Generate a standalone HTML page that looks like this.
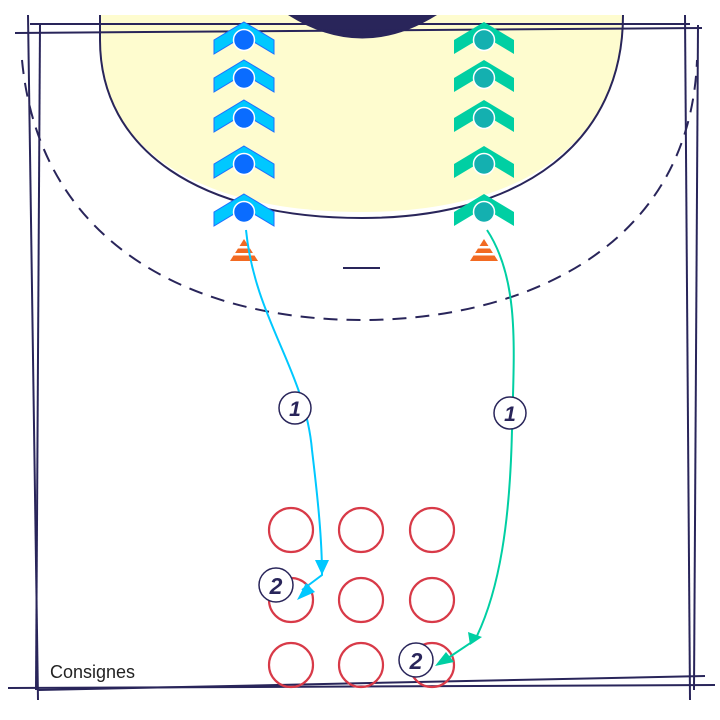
<!DOCTYPE html>
<html><head><style>body{margin:0;background:#fff}svg{display:block}</style></head><body>
<svg width="720" height="720" viewBox="0 0 720 720" xmlns="http://www.w3.org/2000/svg">
<defs>
<g id="chB"><polygon points="0,-18 30,0 30,14 0,-4 -30,14 -30,0" fill="#00c8ff" stroke="#1e6eff" stroke-width="1"/><circle r="10.5" fill="#0a6cff" stroke="#fff" stroke-width="1.5"/></g>
<g id="chG"><polygon points="0,-18 30,0 30,14 0,-4 -30,14 -30,0" fill="#00cfa3"/><circle r="10.5" fill="#14b0b0" stroke="#fff" stroke-width="1.5"/></g>
<g id="cone"><polygon points="0,-11 -14,11 14,11" fill="#f26a22"/><rect x="-15" y="-4" width="30" height="2.5" fill="#fff"/><rect x="-15" y="3" width="30" height="2.5" fill="#fff"/></g>
</defs>
<path d="M100,15 L100,40 C100,150 200,212 362,212 C525,212 623,140 623,15 Z" fill="#fefccf"/>
<path d="M100,15 L100,40 C100,150 200,218 362,218 C525,218 623,140 623,15" fill="none" stroke="#29255a" stroke-width="2"/>
<path d="M288,15 Q362,62 437,15 Z" fill="#29255a"/>
<path d="M22,60 C40,250 200,320 362,320 C520,320 690,250 697,60" fill="none" stroke="#29255a" stroke-width="2" stroke-dasharray="14,9"/>
<g stroke="#29255a" stroke-width="2" fill="none">
<line x1="15" y1="33" x2="702" y2="28"/><line x1="30" y1="24" x2="690" y2="24"/>
<line x1="28" y1="15" x2="38" y2="700"/><line x1="40" y1="24" x2="36" y2="690"/>
<line x1="685" y1="15" x2="690" y2="700"/><line x1="698" y1="25" x2="694" y2="690"/>
<line x1="8" y1="688" x2="715" y2="685"/><line x1="38" y1="690" x2="705" y2="676"/>
<line x1="343" y1="268" x2="380" y2="268"/>
</g>
<use href="#chB" x="244" y="40"/><use href="#chB" x="244" y="78"/><use href="#chB" x="244" y="118"/><use href="#chB" x="244" y="164"/><use href="#chB" x="244" y="212"/>
<use href="#chG" x="484" y="40"/><use href="#chG" x="484" y="78"/><use href="#chG" x="484" y="118"/><use href="#chG" x="484" y="164"/><use href="#chG" x="484" y="212"/>
<use href="#cone" x="244" y="250"/><use href="#cone" x="484" y="250"/>
<g fill="none" stroke="#d83a48" stroke-width="2.2">
<circle cx="291" cy="530" r="22"/><circle cx="361" cy="530" r="22"/><circle cx="432" cy="530" r="22"/>
<circle cx="291" cy="600" r="22"/><circle cx="361" cy="600" r="22"/><circle cx="432" cy="600" r="22"/>
<circle cx="291" cy="665" r="22"/><circle cx="361" cy="665" r="22"/><circle cx="432" cy="665" r="22"/>
</g>
<path d="M246,230 C255,320 305,370 312,450 C318,500 322,540 322,575 L302,590" fill="none" stroke="#00c8ff" stroke-width="2"/>
<polygon points="315,560 329,560 322,575" fill="#00c8ff"/><polygon points="297,600 306,583 315,592" fill="#00c8ff"/>
<path d="M487,230 C520,280 514,350 512,430 C510,520 500,590 475,640 L445,660" fill="none" stroke="#00cfa3" stroke-width="2"/>
<polygon points="468,632 482,637 470,645" fill="#00cfa3"/><polygon points="435,666 446,652 454,662" fill="#00cfa3"/>
<g font-family="Liberation Sans, sans-serif" font-weight="bold" font-style="italic" fill="#29255a" text-anchor="middle">
<circle cx="295" cy="408" r="16" fill="#fff" stroke="#29255a" stroke-width="1.5"/><text x="295" y="416" font-size="21">1</text>
<circle cx="510" cy="413" r="16" fill="#fff" stroke="#29255a" stroke-width="1.5"/><text x="510" y="421" font-size="21">1</text>
<circle cx="276" cy="585" r="17" fill="#fff" stroke="#29255a" stroke-width="1.5"/><text x="276" y="594" font-size="23">2</text>
<circle cx="416" cy="660" r="17" fill="#fff" stroke="#29255a" stroke-width="1.5"/><text x="416" y="669" font-size="23">2</text>
</g>
<text x="50" y="678" font-family="Liberation Sans, sans-serif" font-size="18" fill="#222">Consignes</text>
</svg>
</body></html>
